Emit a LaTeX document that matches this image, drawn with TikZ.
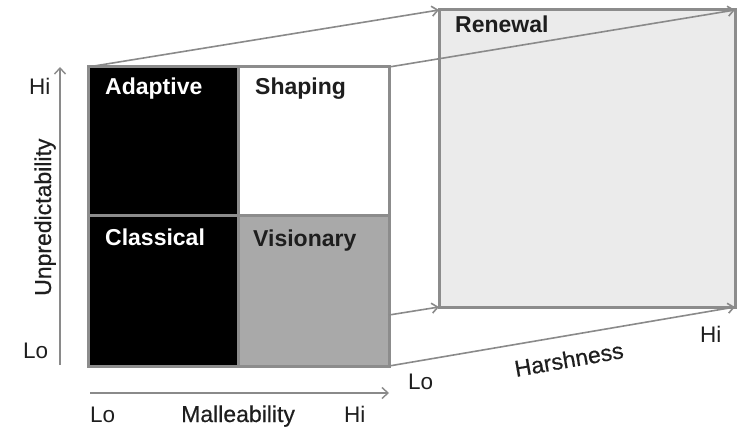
\documentclass[tikz,border=0pt]{standalone}
\usepackage{fontspec}
\setmainfont{Liberation Sans}
\newfontfamily\medfont[FakeBold=0.5]{Liberation Sans}
\usetikzlibrary{arrows.meta}
\definecolor{edgegray}{HTML}{8C8C8C}
\definecolor{axisgray}{HTML}{8A8A8A}
\definecolor{visgray}{HTML}{A9A9A9}
\definecolor{renfill}{HTML}{EBEBEB}
\definecolor{txt}{HTML}{1E1E1E}
\tikzset{
  cell/.style={draw=edgegray, line width=3pt, anchor=north west, inner sep=0pt, outer sep=0pt},
  qlabel/.style={font=\fontsize{23}{27}\selectfont\bfseries, anchor=base west, inner sep=0pt},
  axlabel/.style={font=\fontsize{22.5}{27}\selectfont, anchor=base west, inner sep=0pt, text=txt},
  axname/.style={font=\fontsize{23}{27}\selectfont\medfont, anchor=base west, inner sep=0pt, text=txt},
  axis/.style={draw=axisgray, line width=1.4pt, -{Straight Barb[length=6pt,width=11pt]}},
  proj/.style={draw=axisgray, line width=1.6pt, -{Straight Barb[length=6pt,width=10pt]}}
}
\begin{document}
\begin{tikzpicture}[x=1pt,y=-1pt]
\useasboundingbox (0,0) rectangle (744,428);
% quadrants
\node[cell, fill=black, minimum width=150pt, minimum height=148pt] (adaptive) at (88,67) {};
\node[cell, fill=white, minimum width=151pt, minimum height=148pt] (shaping) at (238,67) {};
\node[cell, fill=black, minimum width=150pt, minimum height=151pt] (classical) at (88,215) {};
\node[cell, fill=visgray, minimum width=151pt, minimum height=151pt] (visionary) at (238,215) {};
\node[qlabel, text=white] (tadaptive) at (105,95) {Adaptive};
\node[qlabel, text=txt] (tshaping) at (255,95) {Shaping};
\node[qlabel, text=white] (tclassical) at (105,245) {Classical};
\node[qlabel, text=txt] (tvisionary) at (253,246) {Visionary};
% renewal box
\node[cell, fill=renfill, minimum width=296pt, minimum height=297pt] (renewal) at (439,10) {};
\node[qlabel, text=txt] (trenewal) at (455,33) {Renewal};
% projection lines
\coordinate (midright) at (389,315);
\draw[proj] (adaptive.north west) -- (renewal.north west);
\draw[proj] (shaping.north east) -- (renewal.north east);
\draw[proj] (midright) -- (renewal.south west);
\draw[proj] (visionary.south east) -- (renewal.south east);
% axes
\coordinate (ybot) at (60,365);
\coordinate (ytop) at (60,67);
\coordinate (xleft) at (90,393);
\coordinate (xright) at (389,393);
\draw[axis] (ybot) -- (ytop);
\draw[axis] (xleft) -- (xright);
% axis labels
\node[axlabel] (yhi) at (29,95) {Hi};
\node[axlabel] (ylo) at (23,358) {Lo};
\node[axname, rotate=90] (yname) at (51,296) {Unpredictability};
\node[axlabel] (xlo) at (90,422) {Lo};
\node[axname] (xname) at (181,422) {Malleability};
\node[axlabel] (xhi) at (344,422) {Hi};
\node[axlabel] (hlo) at (408,389) {Lo};
\node[axname, rotate=10] (hname) at (516,377) {Harshness};
\node[axlabel] (hhi) at (700,342) {Hi};
\end{tikzpicture}
\end{document}
